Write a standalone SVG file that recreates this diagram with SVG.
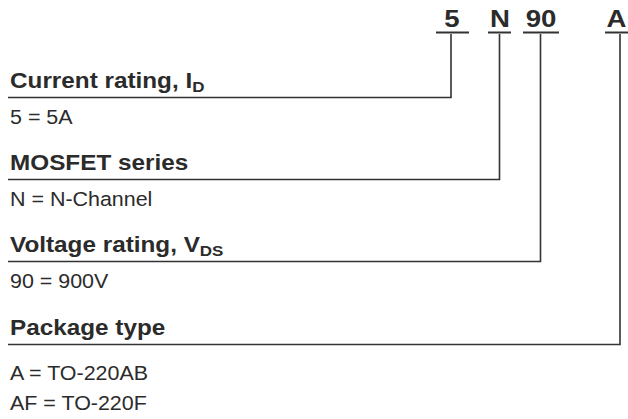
<svg xmlns="http://www.w3.org/2000/svg" width="628" height="419" viewBox="0 0 628 419">
<style>
.code{font-family:"Liberation Sans",Arial,sans-serif;font-weight:bold;font-size:24px;fill:#2b2b2b;text-anchor:middle}
.title{font-family:"Liberation Sans",Arial,sans-serif;font-weight:bold;font-size:21.5px;fill:#2b2b2b}
.sub{font-size:15px}
.val{font-family:"Liberation Sans",Arial,sans-serif;font-size:19.5px;fill:#2b2b2b}
.ln{stroke:#333;stroke-width:1.6;fill:none}
.ul{stroke:#333;stroke-width:2;fill:none}
</style>
<rect width="628" height="419" fill="#fff"/>
<g id="code">
<text class="code" transform="translate(452,27) scale(1.15,1)">5</text>
<text class="code" transform="translate(500,27) scale(1.15,1)">N</text>
<text class="code" transform="translate(541,27) scale(1.15,1)">90</text>
<text class="code" transform="translate(616.5,27) scale(1.15,1)">A</text>
<line class="ul" x1="436" y1="32.5" x2="469" y2="32.5"/>
<line class="ul" x1="488" y1="32.5" x2="511" y2="32.5"/>
<line class="ul" x1="523" y1="32.5" x2="559" y2="32.5"/>
<line class="ul" x1="605" y1="32.5" x2="628" y2="32.5"/>
</g>
<g id="connectors">
<polyline class="ln" points="451,34 451,97.5 8,97.5"/>
<polyline class="ln" points="499.5,34 499.5,179.5 8,179.5"/>
<polyline class="ln" points="540.5,34 540.5,261.5 8,261.5"/>
<polyline class="ln" points="620,34 620,344.5 8,344.5"/>
</g>
<g id="current">
<text class="title" transform="translate(10,88) scale(1.13,1)">Current rating, I<tspan class="sub" dy="4">D</tspan></text>
<text class="val" transform="translate(10,124) scale(1.1,1)">5 = 5A</text>
</g>
<g id="series">
<text class="title" transform="translate(10,170) scale(1.13,1)">MOSFET series</text>
<text class="val" transform="translate(10,206) scale(1.1,1)">N = N-Channel</text>
</g>
<g id="voltage">
<text class="title" transform="translate(10,252) scale(1.13,1)">Voltage rating, V<tspan class="sub" dy="4">DS</tspan></text>
<text class="val" transform="translate(10,288) scale(1.1,1)">90 = 900V</text>
</g>
<g id="package">
<text class="title" transform="translate(10,335) scale(1.13,1)">Package type</text>
<text class="val" transform="translate(10,380) scale(1.1,1)">A = TO-220AB</text>
<text class="val" transform="translate(10,410) scale(1.1,1)">AF = TO-220F</text>
</g>
</svg>
